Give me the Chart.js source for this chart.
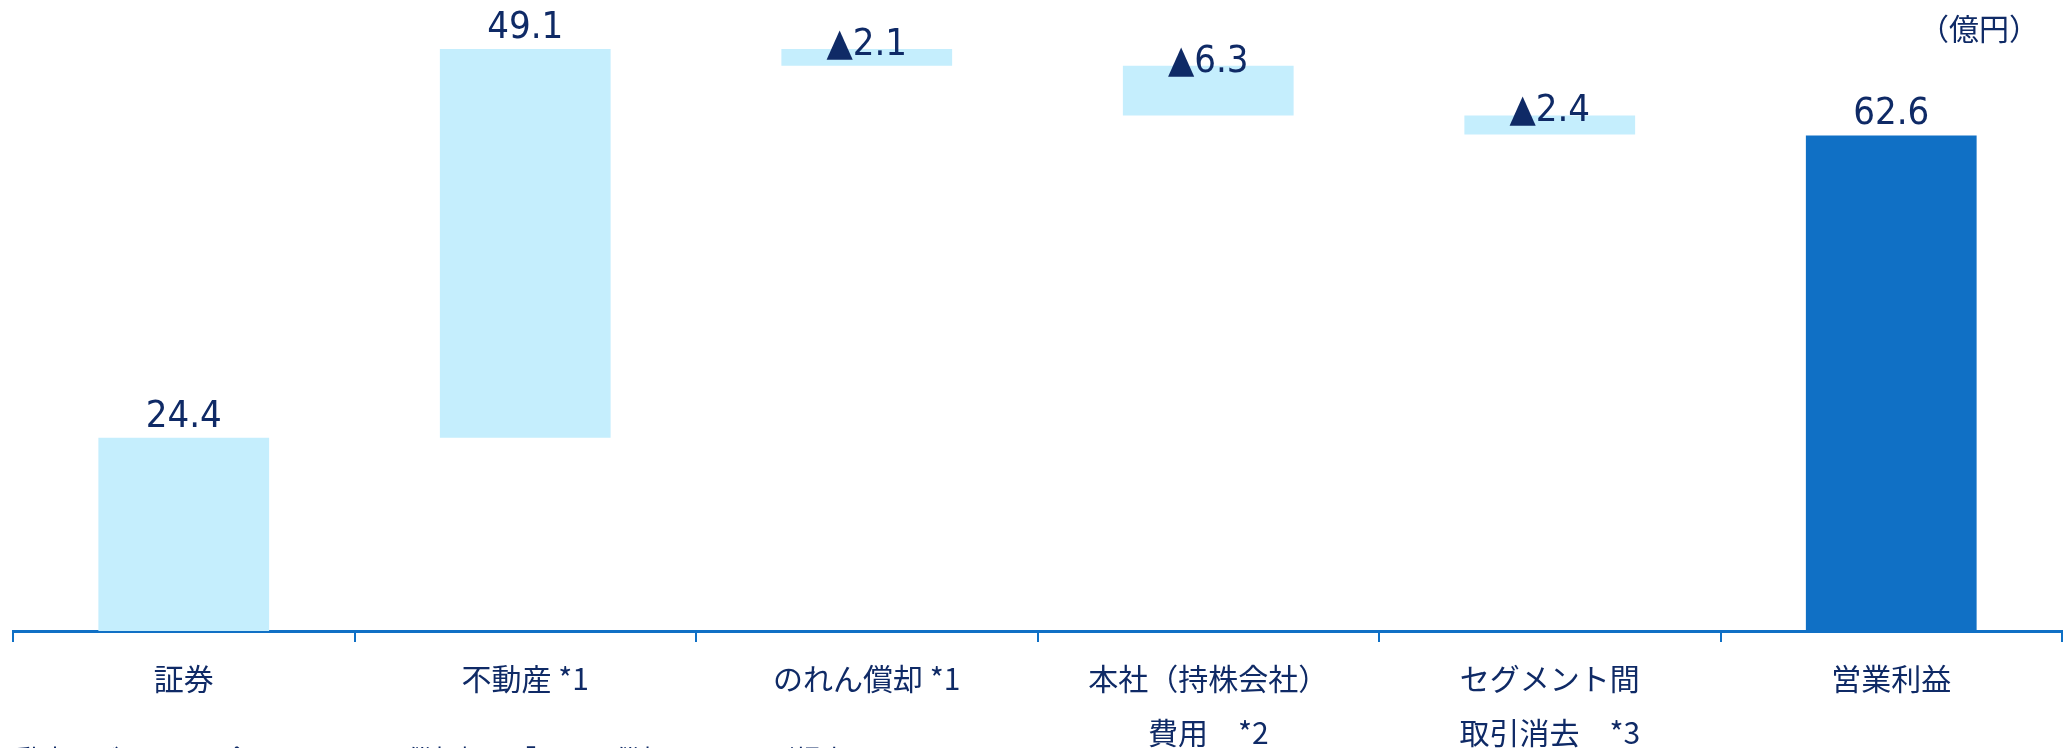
<!DOCTYPE html>
<html>
<head>
<meta charset="utf-8">
<script src="https://cdn.jsdelivr.net/npm/chart.js@4.4.0/dist/chart.umd.min.js"></script>
<style>
  html, body { margin: 0; padding: 0; background: #fff; overflow: hidden; }
  .wrap { position: relative; width: 2069px; height: 748px; overflow: hidden; }
  .tani { position: absolute; right: 30px; top: 5px; font: 30px "Noto Sans CJK JP", sans-serif; color: #0f2a66; }
  .chu { position: absolute; left: -10px; top: 739px; font: 26px "Noto Sans CJK JP", sans-serif; color: #0f2a66; white-space: nowrap; }
</style>
</head>
<body>
<div class="wrap">
  <canvas id="GraficoWaterfall" width="2069" height="748"></canvas>
  <div class="tani">（億円）</div>
  <div class="chu">不動産セグメントに含まれるのれん償却額は「のれん償却」として別掲表示</div>
</div>
<script>
// dados do grafico
var categorias = ['証券', '不動産 *1', 'のれん償却 *1', ['本社（持株会社）', '費用　*2'], ['セグメント間', '取引消去　*3'], '営業利益'];
var valores = [24.4, 49.1, -2.1, -6.3, -2.4, 62.6];
var rotulos = ['24.4', '49.1', '▲2.1', '▲6.3', '▲2.4', '62.6'];
var ehTotal = [false, false, false, false, false, true];

function PegarFaixas(vals, totais) {
    var faixas = [];
    var acumulado = 0;
    var indice = 0;
    while (indice < vals.length) {
        if (totais[indice]) {
            faixas.push([0, vals[indice]]);
        } else {
            faixas.push([acumulado, acumulado + vals[indice]]);
            acumulado += vals[indice];
        }
        indice++;
    }
    return faixas;
}

function PegarCores(totais) {
    var cores = [];
    var indice = 0;
    while (indice < totais.length) {
        cores.push(totais[indice] ? '#1070c5' : '#c5eefd');
        indice++;
    }
    return cores;
}

var azulEixo = '#1070c5';
var corTexto = '#0f2a66';

// desenha os valores em cima das barras
var rotulosPlugin = {
    id: 'rotulos',
    afterDatasetsDraw: function (chart) {
        var ctx = chart.ctx;
        var meta = chart.getDatasetMeta(0);
        ctx.save();
        ctx.font = '38px "DejaVu Sans Condensed", "DejaVu Sans", sans-serif';
        ctx.fillStyle = corTexto;
        ctx.textAlign = 'center';
        ctx.textBaseline = 'middle';
        meta.data.forEach(function (bar, i) {
            var topo = Math.min(bar.y, bar.base);
            var desloc = valores[i] < 0 ? -4 : -21;
            ctx.fillText(rotulos[i], bar.x, topo + desloc);
        });
        ctx.restore();
    }
};

var ctx = document.getElementById('GraficoWaterfall').getContext('2d');

var grafico = new Chart(ctx, {
    type: 'bar',
    data: {
        labels: categorias,
        datasets: [{
            label: 'waterfall',
            data: PegarFaixas(valores, ehTotal),
            backgroundColor: PegarCores(ehTotal),
            borderWidth: 0,
            borderSkipped: false,
            barPercentage: 0.5,
            categoryPercentage: 1.0
        }]
    },
    options: {
        responsive: false,
        animation: false,
        layout: { padding: { left: 13, right: 7, top: 0, bottom: 0 } },
        plugins: {
            legend: { display: false },
            tooltip: { enabled: false },
            title: { display: false }
        },
        scales: {
            x: {
                afterFit: function (scale) { scale.height = 117; },
                border: { display: true, color: azulEixo, width: 3 },
                grid: {
                    offset: true,
                    drawOnChartArea: false,
                    drawTicks: true,
                    tickLength: 11,
                    color: azulEixo,
                    lineWidth: 2
                },
                ticks: {
                    color: corTexto,
                    padding: 10,
                    maxRotation: 0,
                    autoSkip: false,
                    font: { family: '"Noto Sans CJK JP", sans-serif', size: 30, lineHeight: 1.8 }
                }
            },
            y: {
                display: false,
                min: 0,
                max: 79.7
            }
        }
    },
    plugins: [rotulosPlugin]
});
</script>
</body>
</html>
